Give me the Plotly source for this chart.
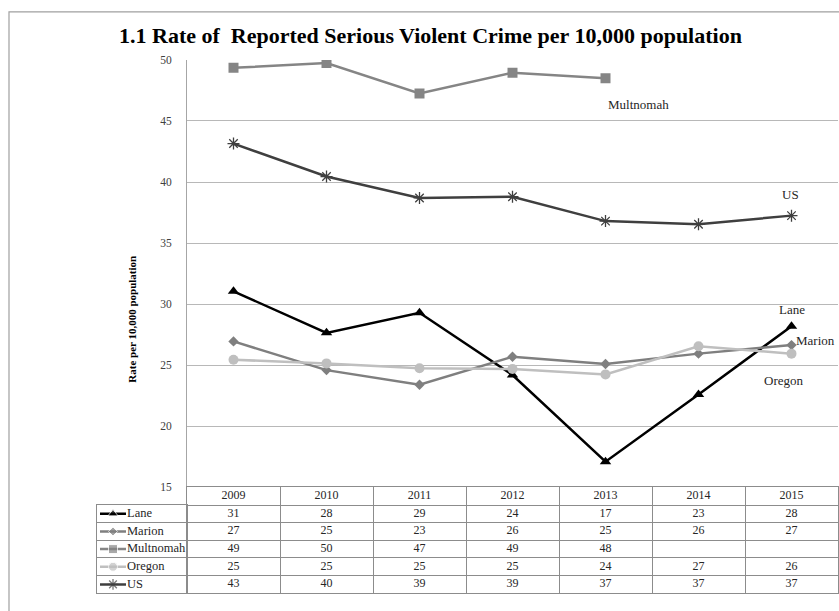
import plotly.graph_objects as go

W, H = 839, 611

years = ["2009", "2010", "2011", "2012", "2013", "2014", "2015"]
series_names = ["Lane", "Marion", "Multnomah", "Oregon", "US"]

lane = [31.05, 27.65, 29.3, 24.2, 17.1, 22.6, 28.2]
marion = [26.95, 24.6, 23.4, 25.7, 25.1, 25.95, 26.65]
multnomah = [49.35, 49.75, 47.25, 48.95, 48.5, None, None]
oregon = [25.45, 25.15, 24.75, 24.7, 24.25, 26.55, 25.95]
us = [43.15, 40.45, 38.7, 38.8, 36.8, 36.55, 37.25]

# table values as printed under the chart
lane_tbl = ["31", "28", "29", "24", "17", "23", "28"]
marion_tbl = ["27", "25", "23", "26", "25", "26", "27"]
multnomah_tbl = ["49", "50", "47", "49", "48", "", ""]
oregon_tbl = ["25", "25", "25", "25", "24", "27", "26"]
us_tbl = ["43", "40", "39", "39", "37", "37", "37"]

y_ticks = [15, 20, 25, 30, 35, 40, 45, 50]

values = [lane, marion, multnomah, oregon, us]
tables = [lane_tbl, marion_tbl, multnomah_tbl, oregon_tbl, us_tbl]

styles = {
    "Lane": dict(color="#000000", symbol="triangle-up", size=10, width=2.5),
    "Marion": dict(color="#7f7f7f", symbol="diamond", size=8, width=2.5),
    "Multnomah": dict(color="#858585", symbol="square", size=10, width=2.5),
    "Oregon": dict(color="#bfbfbf", symbol="circle", size=10, width=2.5),
    "US": dict(color="#3f3f3f", symbol="asterisk-open", size=10, width=2.5),
}

FONT = "Liberation Serif, Times New Roman, serif"
TXT = "#262626"


def px_x(p):
    return p / W


def px_y(p):
    return 1 - p / H


fig = go.Figure()

# main lines
for name, vals in zip(series_names, values):
    s = styles[name]
    marker = dict(symbol=s["symbol"], size=s["size"], color=s["color"])
    if s["symbol"] == "asterisk-open":
        marker["line"] = dict(color=s["color"], width=1.3)
    fig.add_trace(go.Scatter(
        x=years, y=vals, mode="lines+markers", name=name,
        line=dict(color=s["color"], width=s["width"]),
        marker=marker, xaxis="x", yaxis="y", showlegend=False,
        connectgaps=False, hoverinfo="skip"))

# table: header (years) + values
rows_y = [0] * len(years)
fig.add_trace(go.Scatter(
    x=years, y=rows_y, mode="text", text=years,
    textfont=dict(family=FONT, size=12, color=TXT),
    xaxis="x2", yaxis="y2", showlegend=False, hoverinfo="skip"))
for i, (name, tbl) in enumerate(zip(series_names, tables), start=1):
    fig.add_trace(go.Scatter(
        x=years, y=[i] * len(years), mode="text", text=tbl,
        textfont=dict(family=FONT, size=12, color=TXT),
        xaxis="x2", yaxis="y2", showlegend=False, hoverinfo="skip"))

# label column with legend keys
for i, name in enumerate(series_names, start=1):
    s = styles[name]
    marker = dict(symbol=s["symbol"], size=[0, s["size"] - 1, 0], color=s["color"])
    if s["symbol"] == "asterisk-open":
        marker["line"] = dict(color=s["color"], width=1.3)
    fig.add_trace(go.Scatter(
        x=[3, 16, 29], y=[i, i, i], mode="lines+markers",
        line=dict(color=s["color"], width=s["width"]), marker=marker,
        xaxis="x3", yaxis="y3", showlegend=False, hoverinfo="skip"))
    fig.add_trace(go.Scatter(
        x=[30], y=[i], mode="text", text=[name], textposition="middle right",
        textfont=dict(family=FONT, size=12.5, color=TXT),
        xaxis="x3", yaxis="y3", showlegend=False, hoverinfo="skip"))

plot_left, plot_right = 187, 838
plot_top, plot_bottom = 55, 491
table_bottom = 599
label_left = 97
label_top = 509

grid_col = "#b8b8b8"
tbl_col = "#8c8c8c"

fig.update_layout(
    width=W, height=H,
    margin=dict(l=0, r=0, t=0, b=0),
    paper_bgcolor="white", plot_bgcolor="white",
    font=dict(family=FONT, color=TXT),
    xaxis=dict(domain=[px_x(plot_left), px_x(plot_right)], type="category",
               categoryorder="array", categoryarray=years,
               range=[-0.5, 6.5], showticklabels=False, showgrid=False,
               zeroline=False, showline=False, anchor="y"),
    yaxis=dict(domain=[px_y(plot_bottom), px_y(plot_top)], range=[15, 50],
               tickvals=y_ticks, showgrid=True, gridcolor=grid_col, gridwidth=1,
               zeroline=False, showline=True, linecolor="#a6a6a6", linewidth=1,
               ticks="", ticklabelstandoff=12,
               tickfont=dict(family=FONT, size=11.5, color="#404040"), anchor="x"),
    xaxis2=dict(domain=[px_x(plot_left), px_x(plot_right)], type="category",
                categoryorder="array", categoryarray=years,
                range=[-0.5, 6.5], tickson="boundaries", showgrid=True,
                gridcolor=tbl_col, gridwidth=1, showticklabels=False, ticks="",
                zeroline=False, showline=True, mirror=True, linecolor=tbl_col,
                anchor="y2"),
    yaxis2=dict(domain=[px_y(table_bottom), px_y(plot_bottom)], range=[5.5, -0.5],
                tickvals=[-0.5, 0.5, 1.5, 2.5, 3.5, 4.5, 5.5], showgrid=True,
                gridcolor=tbl_col, gridwidth=1, showticklabels=False, ticks="",
                zeroline=False, showline=True, mirror=True, linecolor=tbl_col,
                anchor="x2"),
    xaxis3=dict(domain=[px_x(label_left), px_x(plot_left)], range=[0, 90],
                showgrid=False, showticklabels=False, ticks="", zeroline=False,
                showline=True, mirror=True, linecolor=tbl_col, anchor="y3"),
    yaxis3=dict(domain=[px_y(table_bottom), px_y(label_top)], range=[5.5, 0.5],
                tickvals=[0.5, 1.5, 2.5, 3.5, 4.5, 5.5], showgrid=True,
                gridcolor=tbl_col, gridwidth=1, showticklabels=False, ticks="",
                zeroline=False, showline=True, mirror=True, linecolor=tbl_col,
                anchor="x3"),
    shapes=[dict(type="rect", xref="paper", yref="paper",
                 x0=px_x(9), x1=px_x(900), y0=px_y(700), y1=px_y(6),
                 line=dict(color="#a0a0a0", width=1.2), fillcolor="rgba(0,0,0,0)",
                 layer="below")],
)

annotations = [
    dict(text="<b>1.1 Rate of  Reported Serious Violent Crime per 10,000 population</b>",
         xref="paper", yref="paper", x=px_x(430), y=px_y(30),
         xanchor="center", yanchor="middle", showarrow=False,
         font=dict(family=FONT, size=22, color="#000000")),
    dict(text="<b>Rate per 10,000 population</b>", xref="paper", yref="paper",
         x=px_x(132), y=px_y(320), textangle=-90, xanchor="center",
         yanchor="middle", showarrow=False,
         font=dict(family=FONT, size=11, color="#000000")),
]

# series end labels (x given as category index)
label_specs = {
    "Multnomah": (4, 33, -26),
    "US": (6, -1, 21),
    "Lane": (6, 0, 17),
    "Marion": (6, 24, 5),
    "Oregon": (6, -8, -27),
}
for name, vals in zip(series_names, values):
    idx, dx, dy = label_specs[name]
    annotations.append(dict(
        text=name, x=idx, y=vals[idx], xref="x", yref="y",
        xshift=dx, yshift=dy, showarrow=False, xanchor="center", yanchor="middle",
        font=dict(family=FONT, size=13, color=TXT)))

fig.update_layout(annotations=annotations)

fig.write_html("out.html",
               config={"displayModeBar": False, "staticPlot": True},
               post_script="document.body.style.margin='0';document.body.style.overflow='hidden';")
